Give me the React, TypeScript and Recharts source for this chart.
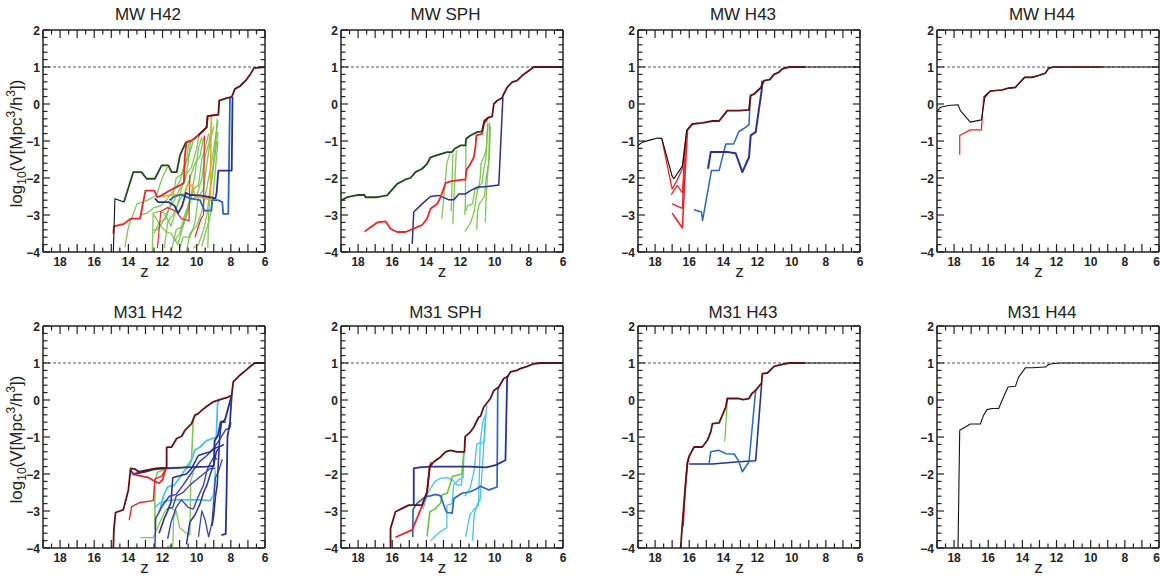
import { LineChart, Line, XAxis, YAxis, ReferenceLine } from 'recharts'

type Pt = [number, number] // [z, log10 V]

// ---------- axes ----------
const X_LABELS = [18, 16, 14, 12, 10, 8, 6]
const Y_LABELS = [2, 1, 0, -1, -2, -3, -4]
const X_TICKS = Array.from({ length: 27 }, (_, i) => 6 + i * 0.5)
const Y_TICKS = Array.from({ length: 31 }, (_, i) => Math.round((-4 + i * 0.2) * 10) / 10)
const TITLES = ['MW H42', 'MW SPH', 'MW H43', 'MW H44', 'M31 H42', 'M31 SPH', 'M31 H43', 'M31 H44']

// ---------- MW H42 ----------
const mwH42_black: Pt[] = [[14.88, -4.0], [14.79, -2.56], [14.26, -2.65]]
const mwH42_dkgreen: Pt[] = [[14.26, -2.65], [13.71, -1.84], [13.23, -1.84], [12.93, -2.02], [12.45, -2.02], [12.05, -1.66], [11.66, -1.66], [11.47, -1.84], [11.17, -1.84], [10.98, -1.39], [10.63, -1.03], [10.3, -0.99], [9.91, -0.85]]
const mwH42_main: Pt[] = [[9.91, -0.85], [9.42, -0.63], [9.36, -0.33], [8.73, -0.29], [8.68, 0.09], [8.25, 0.16], [7.95, 0.19], [7.76, 0.41], [7.47, 0.48], [7.08, 0.66], [6.84, 0.82], [6.65, 0.97], [6.0, 1.0]]
const mwH42_red: Pt[] = [[14.88, -3.5], [14.85, -3.31], [14.26, -3.24], [13.87, -3.1], [13.32, -3.1], [13.0, -2.34], [12.48, -2.34], [12.31, -2.52], [12.05, -2.47], [11.66, -2.36], [10.98, -2.2], [10.75, -2.12], [10.7, -1.44], [10.6, -1.03], [10.3, -0.99], [9.91, -0.85], [9.42, -0.63], [9.36, -0.33], [8.73, -0.29]]
const mwH42_red2: Pt[] = [[12.3, -3.9], [12.1, -2.9], [11.7, -2.8], [11.2, -2.9], [10.9, -3.1], [10.45, -3.15], [10.4, -1.9]]
const mwH42_red3: Pt[] = [[10.1, -3.6], [9.75, -3.1], [9.6, -3.0], [9.55, -0.85]]
const mwH42_navy: Pt[] = [[12.45, -2.55], [12.25, -2.65], [11.66, -2.65], [11.3, -2.75], [11.08, -2.95], [10.85, -2.75], [10.63, -2.4], [10.4, -2.46], [9.81, -2.47], [9.22, -2.52], [8.9, -2.55], [8.83, -2.38], [8.73, -1.8], [7.95, -1.8], [7.9, 0.19]]
const mwH42_blue: Pt[] = [[11.6, -2.6], [11.3, -2.5], [10.9, -2.45], [10.4, -2.55], [9.8, -2.6], [9.55, -2.88], [9.15, -2.88], [9.1, -2.6], [8.75, -2.6], [8.5, -2.65], [8.45, -2.97], [8.15, -2.97], [8.05, 0.18]]
const mwH42_orange: Pt[] = [[12.0, -2.5], [11.3, -2.45], [10.7, -2.45], [10.55, -2.2], [10.25, -2.2], [10.1, -2.5], [9.5, -2.55], [9.2, -2.6], [9.15, -0.35]]
const mwH42_g1: Pt[] = [[14.2, -3.87], [14.0, -3.33], [13.5, -2.7], [12.93, -2.61], [12.35, -2.47], [12.1, -2.1], [11.92, -1.89], [11.7, -1.7]]
const mwH42_g2: Pt[] = [[12.6, -4.0], [12.55, -2.95], [12.2, -2.9], [11.9, -2.95], [11.5, -3.3], [11.1, -2.7], [10.9, -2.3], [10.6, -1.9], [10.3, -1.7], [10.0, -1.2], [9.85, -0.85]]
const mwH42_g3: Pt[] = [[12.5, -3.5], [12.2, -3.2], [11.8, -3.1], [11.4, -2.5], [11.2, -2.0], [10.9, -1.9], [10.6, -1.5], [10.45, -1.02]]
const mwH42_g4: Pt[] = [[11.9, -3.9], [11.7, -3.2], [11.4, -3.0], [11.0, -2.6], [10.7, -2.4], [10.4, -2.0], [10.1, -1.6], [9.8, -1.4], [9.6, -0.9]]
const mwH42_g5: Pt[] = [[11.5, -4.0], [11.2, -3.4], [10.8, -3.3], [10.5, -2.9], [10.2, -2.3], [9.9, -2.2], [9.7, -1.5], [9.5, -1.2], [9.3, -0.8]]
const mwH42_g6: Pt[] = [[11.0, -3.9], [10.8, -3.6], [10.4, -3.6], [10.1, -3.2], [9.9, -2.5], [9.6, -2.3], [9.4, -1.6], [9.2, -1.0], [9.0, -0.6]]
const mwH42_g7: Pt[] = [[10.6, -4.0], [10.4, -3.5], [10.0, -3.3], [9.7, -2.9], [9.5, -2.5], [9.3, -2.0], [9.1, -1.5], [8.9, -0.9], [8.75, -0.45]]
const mwH42_g8: Pt[] = [[10.2, -3.9], [9.9, -3.8], [9.6, -3.4], [9.4, -3.0], [9.25, -2.4], [9.1, -2.0], [8.9, -1.3], [8.75, -0.75]]
const mwH42_g9: Pt[] = [[9.7, -3.85], [9.5, -3.5], [9.3, -3.2], [9.1, -2.8], [8.95, -2.0], [8.85, -1.5], [8.75, -1.0]]
const mwH42_g10: Pt[] = [[13.3, -3.0], [12.9, -2.95], [12.5, -2.8], [12.1, -2.75], [11.7, -2.55], [11.3, -2.3], [11.0, -2.1], [10.7, -1.7], [10.4, -1.3], [10.2, -1.0]]
const mwH42_g11: Pt[] = [[12.5, -3.0], [12.1, -3.3], [11.8, -3.45], [11.5, -3.5], [11.1, -3.8], [10.8, -3.3], [10.5, -2.8], [10.3, -2.4], [10.1, -1.9], [9.9, -1.2], [9.7, -0.9]]
const mwH42_g12: Pt[] = [[11.3, -3.7], [11.0, -3.5], [10.7, -3.0], [10.4, -2.6], [10.0, -2.5], [9.7, -2.0], [9.5, -1.4], [9.3, -1.1], [9.1, -0.5]]
const mwH42_g13: Pt[] = [[12.55, -3.4], [12.3, -3.4], [12.0, -3.2], [11.6, -2.8], [11.3, -2.6], [11.0, -2.3], [10.7, -2.1], [10.5, -1.6], [10.35, -1.0]]
const mwH42_g14: Pt[] = [[9.35, -3.9], [9.3, -3.0], [9.2, -2.3], [9.05, -1.7], [8.9, -1.1], [8.8, -0.4]]

// ---------- MW SPH ----------
const mwSph_dkgreen: Pt[] = [[19.0, -2.61], [18.64, -2.52], [18.05, -2.46], [17.62, -2.46], [17.57, -2.52], [16.88, -2.52], [16.3, -2.47], [15.71, -2.16], [15.22, -2.04], [14.93, -2.0], [14.64, -1.84], [14.25, -1.75], [13.96, -1.62], [13.76, -1.44], [13.27, -1.37], [12.78, -1.3], [12.49, -1.3], [12.35, -1.21], [12.0, -1.12], [11.71, -1.12], [11.67, -0.94], [11.42, -0.85], [11.03, -0.76], [10.74, -0.74]]
const mwSph_main: Pt[] = [[10.74, -0.74], [10.6, -0.45], [10.35, -0.36], [10.15, -0.34], [10.05, 0.0], [9.86, 0.09], [9.56, 0.17], [9.47, 0.27], [9.27, 0.45], [8.98, 0.59], [8.69, 0.63], [8.39, 0.77], [8.0, 0.9], [7.71, 1.0], [6.0, 1.0]]
const mwSph_red: Pt[] = [[17.62, -3.45], [17.27, -3.33], [16.88, -3.2], [16.39, -3.17], [16.1, -3.37], [15.71, -3.46], [15.22, -3.46], [14.74, -3.37], [14.25, -3.27], [13.96, -3.1], [13.76, -2.83], [13.37, -2.7], [13.17, -2.52], [12.88, -2.14], [12.59, -2.09], [12.0, -2.05], [11.71, -2.04], [11.65, -1.78], [11.42, -1.62], [11.22, -1.44], [11.13, -1.17], [11.07, -0.85], [10.74, -0.81], [10.64, -0.54], [10.35, -0.36]]
const mwSph_navy: Pt[] = [[14.83, -3.78], [14.74, -2.92], [14.25, -2.7], [13.76, -2.5], [13.27, -2.47], [12.68, -2.59], [12.39, -2.59], [12.1, -2.43], [11.71, -2.43], [11.42, -2.34], [11.03, -2.25], [10.44, -2.23], [9.76, -2.19], [9.52, 0.18]]
const mwSph_g1: Pt[] = [[13.1, -3.1], [12.95, -2.4], [12.8, -1.6], [12.6, -1.3]]
const mwSph_g2: Pt[] = [[12.45, -3.25], [12.4, -2.6], [12.3, -1.8], [12.25, -1.25]]
const mwSph_g3: Pt[] = [[11.75, -3.45], [11.4, -3.2], [11.2, -2.9], [11.1, -2.6], [11.0, -2.3], [10.9, -2.2], [10.75, -2.15], [10.65, -1.8], [10.5, -1.4], [10.4, -0.5]]
const mwSph_g4: Pt[] = [[11.7, -2.9], [11.6, -2.75], [11.3, -2.7], [11.15, -2.3], [10.95, -2.3], [10.85, -2.0], [10.8, -1.6], [10.6, -1.4], [10.5, -1.25], [10.4, -0.55]]
const mwSph_g5: Pt[] = [[11.05, -3.4], [11.0, -2.9], [10.9, -2.7], [10.6, -2.5], [10.5, -2.0], [10.35, -1.6], [10.3, -0.5]]
const mwSph_g6: Pt[] = [[10.55, -3.2], [10.5, -2.5], [10.4, -1.8], [10.3, -1.3], [10.25, -0.6]]
const mwSph_g7: Pt[] = [[11.75, -3.0], [11.72, -2.7], [11.68, -1.1]]
const mwSph_g8: Pt[] = [[12.55, -2.9], [12.5, -2.2], [12.45, -1.35]]

// ---------- MW H43 ----------
const mwH43_black: Pt[] = [[19.0, -1.12], [18.74, -1.03], [18.25, -0.97], [17.86, -0.92], [17.61, -0.93], [17.0, -1.95], [16.9, -2.02], [16.4, -1.68], [16.15, -0.72], [15.81, -0.54]]
const mwH43_main: Pt[] = [[16.15, -0.72], [15.81, -0.54], [15.23, -0.51], [14.64, -0.46], [14.25, -0.46], [13.77, -0.18], [13.08, -0.18], [12.5, -0.16], [12.4, 0.23], [12.2, 0.27], [11.81, 0.44], [11.62, 0.63], [11.29, 0.66], [11.03, 0.8], [10.74, 0.86], [10.55, 0.95], [10.15, 1.0], [9.18, 1.0]]
const mwH43_tail: Pt[] = [[9.18, 1.0], [6.0, 1.0]]
const mwH43_r1: Pt[] = [[17.6, -0.95], [17.0, -2.3], [16.7, -2.05], [16.4, -1.75], [16.15, -0.75]]
const mwH43_r2: Pt[] = [[17.05, -2.45], [16.7, -2.2], [16.4, -2.4], [16.2, -1.0]]
const mwH43_r3: Pt[] = [[17.0, -2.7], [16.4, -2.82], [16.25, -1.2]]
const mwH43_r4: Pt[] = [[17.0, -2.95], [16.7, -3.15], [16.4, -3.35], [16.2, -1.5], [16.1, -0.72]]
const mwH43_navy: Pt[] = [[14.9, -1.75], [14.74, -1.3], [13.77, -1.3], [13.28, -1.33], [12.89, -1.84], [12.5, -1.44], [12.4, -0.85], [12.11, -0.76], [11.76, 0.36], [11.72, 0.63]]
const mwH43_blue: Pt[] = [[15.72, -2.86], [15.28, -2.92], [15.22, -3.15], [14.7, -1.8], [14.25, -1.8], [13.86, -1.08], [13.4, -1.08], [13.1, -0.75], [12.7, -0.63], [12.5, -0.55], [12.42, 0.23]]

// ---------- MW H44 ----------
const mwH44_black: Pt[] = [[19.0, -0.2], [18.8, -0.09], [18.32, -0.04], [17.77, -0.02], [17.63, -0.18], [17.05, -0.49], [16.4, -0.43], [16.2, 0.18], [15.88, 0.35], [15.2, 0.38], [14.8, 0.43], [14.41, 0.45], [13.87, 0.72], [13.44, 0.72], [13.05, 0.77], [12.66, 0.83], [12.46, 0.97], [12.17, 1.0], [6.0, 1.0]]
const mwH44_red: Pt[] = [[17.67, -1.37], [17.67, -0.85], [17.05, -0.7], [16.4, -0.7], [16.27, 0.18]]
const mwH44_main: Pt[] = [[16.27, 0.18], [15.88, 0.35], [15.2, 0.38], [14.8, 0.43], [14.41, 0.45], [13.87, 0.72], [13.44, 0.72], [13.05, 0.77], [12.66, 0.83], [12.46, 0.97], [12.17, 1.0], [9.3, 1.0]]

// ---------- M31 H42 ----------
const m31H42_main: Pt[] = [[14.88, -4.0], [14.85, -3.51], [14.75, -3.04], [14.3, -2.97], [14.0, -2.43], [13.87, -1.85], [13.6, -1.87], [13.4, -1.94], [13.0, -1.9], [12.4, -1.85], [11.76, -1.83], [11.76, -1.28], [11.47, -1.27], [11.17, -1.04], [10.88, -0.98], [10.69, -0.82], [10.3, -0.64], [10.1, -0.41], [9.91, -0.37], [9.71, -0.28], [9.46, -0.19], [9.03, -0.05], [8.64, 0.01], [8.15, 0.08], [7.95, 0.13], [7.86, 0.49], [7.47, 0.67], [7.08, 0.82], [6.78, 0.94], [6.59, 1.0], [6.0, 1.0]]
const m31H42_navyH: Pt[] = [[13.87, -1.9], [13.71, -2.0], [13.03, -1.94], [12.44, -1.87], [11.76, -1.84], [10.6, -1.82], [9.42, -1.8], [9.0, -1.78], [8.95, -1.1], [8.75, -0.95], [8.6, -0.6], [8.35, -0.55], [7.95, 0.13]]
const m31H42_red: Pt[] = [[13.95, -3.25], [13.81, -2.88], [13.32, -2.77], [12.54, -2.72], [12.45, -2.15], [12.35, -2.12], [12.05, -2.06], [11.8, -1.85]]
const m31H42_red2: Pt[] = [[13.8, -2.0], [13.3, -2.05], [12.8, -2.1], [12.45, -2.2], [12.2, -2.25], [12.0, -2.15], [11.8, -1.85]]
const m31H42_g1: Pt[] = [[13.3, -3.72], [12.55, -3.72], [12.15, -3.3], [11.85, -3.0], [11.6, -2.9], [11.2, -3.0]]
const m31H42_g2: Pt[] = [[12.45, -3.5], [12.45, -2.2], [12.3, -1.95], [11.9, -1.88], [11.5, -1.85], [11.0, -1.85], [10.6, -1.8], [10.3, -1.6], [10.2, -0.5], [10.1, -0.41]]
const m31H42_g3: Pt[] = [[11.75, -3.95], [11.4, -3.95], [11.35, -3.2], [11.2, -3.0], [11.0, -3.45], [10.6, -3.6], [10.4, -3.65], [10.35, -2.2], [10.2, -1.95]]
const m31H42_c1: Pt[] = [[12.45, -2.9], [12.15, -2.78], [11.7, -2.72], [11.2, -2.7], [10.6, -2.7], [9.8, -2.7], [9.2, -2.72], [9.0, -2.55], [8.9, -1.9]]
const m31H42_c2: Pt[] = [[12.2, -3.05], [11.95, -2.6], [11.7, -2.35], [11.3, -2.3], [11.0, -2.1], [10.7, -1.9], [10.4, -1.75], [10.1, -1.35], [9.8, -1.27], [9.42, -1.1], [8.85, -1.0], [8.78, -0.1], [8.68, 0.0]]
const m31H42_n1: Pt[] = [[12.45, -4.0], [12.4, -3.2], [12.0, -2.85], [11.6, -2.6], [11.2, -2.55], [10.8, -2.3], [10.5, -2.1], [10.2, -1.9], [9.8, -1.65], [9.4, -1.5], [9.0, -1.3], [8.7, -1.1], [8.3, -0.8], [8.05, -0.75], [8.0, -0.6]]
const m31H42_n2: Pt[] = [[12.2, -3.6], [11.9, -3.2], [11.7, -3.0], [11.5, -2.75], [11.4, -2.1], [11.0, -2.05], [10.6, -2.0], [10.3, -1.85], [9.9, -1.5], [9.6, -1.45], [9.2, -1.4], [8.9, -1.3], [8.6, -1.25], [8.4, -1.2]]
const m31H42_n3: Pt[] = [[11.7, -3.75], [11.5, -3.3], [11.2, -2.9], [10.9, -2.7], [10.5, -2.9], [10.2, -2.95], [9.9, -2.6], [9.6, -2.3], [9.4, -1.9], [9.2, -1.7], [9.0, -1.55], [8.8, -1.6]]
const m31H42_n4: Pt[] = [[10.6, -3.9], [10.4, -3.3], [10.1, -3.1], [9.8, -2.8], [9.6, -2.5], [9.4, -2.3], [9.2, -2.0], [9.0, -1.75], [8.85, -1.4], [8.7, -1.3]]
const m31H42_n5: Pt[] = [[9.9, -3.7], [9.7, -3.0], [9.5, -3.25], [9.3, -3.7], [9.1, -3.3], [8.9, -2.1], [8.7, -1.9], [8.5, -1.6]]
const m31H42_n6: Pt[] = [[8.55, -3.65], [8.3, -3.62], [8.25, -2.5], [8.2, -1.0], [8.05, -0.6], [7.95, 0.13]]
const m31H42_n7: Pt[] = [[9.1, -3.4], [9.0, -3.1], [8.9, -2.6], [8.8, -2.3], [8.65, -1.0], [8.55, -0.6], [8.3, -0.6]]
const m31H42_n8: Pt[] = [[11.75, -2.95], [11.4, -2.9], [11.2, -2.6], [10.8, -2.5], [10.4, -2.3], [10.0, -2.15], [9.6, -2.0], [9.2, -1.85], [8.9, -1.85]]

// ---------- M31 SPH ----------
const m31Sph_main: Pt[] = [[16.1, -4.0], [16.1, -3.47], [15.81, -3.02], [15.42, -2.93], [15.03, -2.84], [14.74, -2.84], [14.25, -2.84], [13.96, -2.48], [13.8, -1.8], [13.56, -1.67], [13.17, -1.54], [12.88, -1.4], [12.59, -1.36], [12.2, -1.4], [11.77, -1.4], [11.73, -0.99], [11.42, -0.86], [11.22, -0.73], [10.93, -0.46], [10.83, -0.44], [10.64, -0.19], [10.25, 0.04], [10.05, 0.26], [9.76, 0.35], [9.47, 0.58], [9.23, 0.64], [9.08, 0.76], [8.69, 0.8], [8.5, 0.85], [8.1, 0.91], [7.71, 0.98], [7.32, 1.0], [6.0, 1.0]]
const m31Sph_navy: Pt[] = [[14.74, -2.84], [14.74, -1.85], [14.4, -1.82], [13.76, -1.8], [12.5, -1.8], [11.5, -1.8], [10.5, -1.82], [9.95, -1.76], [9.37, -1.63], [9.27, 0.6], [9.2, 0.66]]
const m31Sph_red: Pt[] = [[15.81, -3.71], [14.83, -3.51], [14.25, -2.86], [13.96, -2.48], [13.8, -1.76], [13.7, -1.68]]
const m31Sph_blue: Pt[] = [[14.8, -3.7], [14.78, -2.95], [14.54, -2.79], [14.05, -2.61], [13.76, -2.59], [13.47, -2.55], [13.17, -2.59], [12.88, -2.97], [12.78, -3.04], [12.49, -3.06], [12.39, -2.66], [11.91, -2.52], [11.42, -2.48], [11.03, -2.39], [10.83, -2.33], [10.34, -2.43], [9.86, -2.35], [9.82, 0.26], [9.76, 0.35]]
const m31Sph_green: Pt[] = [[13.96, -3.69], [13.8, -3.02], [13.5, -2.95], [13.17, -2.79], [13.08, -2.57], [12.78, -2.52], [12.59, -2.25], [12.49, -2.07], [11.91, -2.0], [11.81, -1.4]]
const m31Sph_c1: Pt[] = [[14.2, -2.95], [13.9, -2.5], [13.5, -2.2], [13.2, -2.12], [12.8, -2.1], [12.5, -2.15], [12.2, -2.3], [11.95, -2.3], [11.85, -1.6], [11.8, -1.45]]
const m31Sph_c2: Pt[] = [[13.75, -3.8], [13.3, -3.6], [13.0, -3.5], [12.8, -3.45], [12.8, -2.85], [12.5, -2.8], [12.4, -2.3], [12.1, -2.15], [11.85, -2.1], [11.8, -1.4]]
const m31Sph_c3: Pt[] = [[11.7, -3.7], [11.45, -3.1], [11.2, -2.95], [10.95, -2.85], [10.85, -1.2], [10.6, -1.1], [10.5, -0.3], [10.45, -0.14]]
const m31Sph_c4: Pt[] = [[11.3, -3.8], [11.2, -3.1], [11.0, -2.8], [10.85, -2.7], [10.75, -2.0], [10.65, -1.3], [10.55, -0.5]]
const m31Sph_c5: Pt[] = [[11.75, -2.6], [11.45, -2.4], [11.2, -1.9], [11.05, -1.2], [10.85, -1.15], [10.7, -0.6], [10.55, -0.4]]

// ---------- M31 H43 ----------
const m31H43_main: Pt[] = [[16.5, -4.0], [16.4, -3.33], [16.24, -2.43], [16.11, -1.71], [16.01, -1.53], [15.72, -1.27], [15.23, -1.27], [14.94, -1.09], [14.74, -0.86], [14.64, -0.64], [14.25, -0.62], [13.86, -0.19], [13.77, 0.04], [13.08, 0.04], [12.85, 0.01], [12.5, 0.04], [12.34, 0.17], [12.11, 0.26], [11.76, 0.46], [11.72, 0.71], [11.42, 0.73], [11.03, 0.91], [10.55, 0.96], [10.15, 1.0], [9.2, 1.0]]
const m31H43_tail: Pt[] = [[9.2, 1.0], [6.0, 1.0]]
const m31H43_red: Pt[] = [[16.36, -3.42], [16.24, -2.4], [16.11, -1.71], [16.0, -1.5]]
const m31H43_navy: Pt[] = [[16.01, -1.73], [14.64, -1.73], [13.08, -1.67], [12.11, -1.64], [11.76, 0.44]]
const m31H43_blue: Pt[] = [[14.84, -1.72], [14.74, -1.4], [14.25, -1.36], [13.86, -1.45], [13.37, -1.46], [13.12, -1.63], [12.89, -1.94], [12.5, -1.67], [12.11, 0.26]]
const m31H43_green: Pt[] = [[13.92, -1.13], [13.77, 0.01]]

// ---------- M31 H44 ----------
const m31H44_black: Pt[] = [[17.77, -4.0], [17.67, -0.82], [17.34, -0.73], [17.05, -0.65], [16.46, -0.65], [16.27, -0.41], [16.07, -0.26], [15.78, -0.23], [15.39, -0.23], [15.1, 0.08], [14.84, 0.35], [14.41, 0.37], [14.22, 0.62], [13.83, 0.87], [13.44, 0.87], [12.66, 0.89], [12.46, 0.96], [12.27, 0.98], [11.78, 1.0], [6.0, 1.0]]

// ---------- styling ----------
const MAIN = '#5e1416'
const BLACK = '#141414'
const DKGREEN = '#1f4a1c'
const RED = '#e8262b'
const NAVY = '#2a338a'
const NAVY2 = '#3a47a6'
const BLUE = '#2e67b8'
const GREEN = '#74bf48'
const ORANGE = '#f2a51f'
const CYAN = '#4cc2e6'
const AXIS = '#222'
const FONT = '"Liberation Sans", Arial, Helvetica, sans-serif'

type Series = { pts: Pt[]; color: string; w?: number; op?: number }

const g = (pts: Pt[], color = GREEN, w = 1.3): Series => ({ pts, color, w, op: 0.9 })

const PANEL_SERIES: Series[][] = [
  [
    ...[mwH42_g1, mwH42_g2, mwH42_g3, mwH42_g4, mwH42_g5, mwH42_g6, mwH42_g7, mwH42_g8, mwH42_g9, mwH42_g10, mwH42_g11, mwH42_g12, mwH42_g13, mwH42_g14].map((p) => g(p)),
    { pts: mwH42_red2, color: RED, w: 1.2 },
    { pts: mwH42_red3, color: RED, w: 1.2 },
    { pts: mwH42_orange, color: ORANGE, w: 1.6 },
    { pts: mwH42_blue, color: BLUE, w: 1.8 },
    { pts: mwH42_navy, color: NAVY, w: 1.8 },
    { pts: mwH42_dkgreen, color: DKGREEN, w: 1.8 },
    { pts: mwH42_red, color: RED, w: 1.8 },
    { pts: mwH42_black, color: BLACK, w: 1.1 },
    { pts: mwH42_main, color: MAIN, w: 1.8 },
  ],
  [
    ...[mwSph_g1, mwSph_g2, mwSph_g3, mwSph_g4, mwSph_g5, mwSph_g6, mwSph_g7, mwSph_g8].map((p) => g(p)),
    { pts: mwSph_navy, color: NAVY, w: 1.5 },
    { pts: mwSph_red, color: RED, w: 1.8 },
    { pts: mwSph_dkgreen, color: DKGREEN, w: 1.8 },
    { pts: mwSph_main, color: MAIN, w: 1.8 },
  ],
  [
    { pts: mwH43_r1, color: RED, w: 1.3 },
    { pts: mwH43_r2, color: RED, w: 1.3 },
    { pts: mwH43_r3, color: RED, w: 1.3 },
    { pts: mwH43_r4, color: RED, w: 1.6 },
    { pts: mwH43_blue, color: BLUE, w: 1.5 },
    { pts: mwH43_navy, color: NAVY, w: 2 },
    { pts: mwH43_black, color: BLACK, w: 1.2 },
    { pts: mwH43_main, color: MAIN, w: 1.9 },
    { pts: mwH43_tail, color: BLACK, w: 1.2 },
  ],
  [
    { pts: mwH44_red, color: RED, w: 1.2 },
    { pts: mwH44_black, color: BLACK, w: 1.1 },
    { pts: mwH44_main, color: MAIN, w: 1.6 },
  ],
  [
    g(m31H42_g1),
    g(m31H42_g2, GREEN, 1.6),
    g(m31H42_g3),
    { pts: m31H42_c1, color: CYAN, w: 1.6 },
    { pts: m31H42_c2, color: CYAN, w: 1.8 },
    { pts: m31H42_n1, color: NAVY2, w: 1.5 },
    { pts: m31H42_n2, color: NAVY, w: 1.6 },
    { pts: m31H42_n3, color: NAVY2, w: 1.4 },
    { pts: m31H42_n4, color: NAVY, w: 1.5 },
    { pts: m31H42_n5, color: NAVY2, w: 1.3 },
    { pts: m31H42_n6, color: NAVY, w: 1.8 },
    { pts: m31H42_n7, color: NAVY, w: 1.6 },
    { pts: m31H42_n8, color: NAVY2, w: 1.4 },
    { pts: m31H42_navyH, color: NAVY, w: 1.9 },
    { pts: m31H42_red, color: RED, w: 1.4 },
    { pts: m31H42_red2, color: RED, w: 1.8 },
    { pts: m31H42_main, color: MAIN, w: 1.8 },
  ],
  [
    { pts: m31Sph_c1, color: CYAN, w: 1.3 },
    { pts: m31Sph_c2, color: CYAN, w: 1.3 },
    { pts: m31Sph_c3, color: CYAN, w: 1.3 },
    { pts: m31Sph_c4, color: CYAN, w: 1.3 },
    { pts: m31Sph_c5, color: CYAN, w: 1.3 },
    { pts: m31Sph_green, color: GREEN, w: 1.6 },
    { pts: m31Sph_blue, color: BLUE, w: 1.7 },
    { pts: m31Sph_navy, color: NAVY, w: 1.8 },
    { pts: m31Sph_red, color: RED, w: 1.8 },
    { pts: m31Sph_main, color: MAIN, w: 1.8 },
  ],
  [
    { pts: m31H43_green, color: GREEN, w: 1.2 },
    { pts: m31H43_navy, color: NAVY, w: 1.6 },
    { pts: m31H43_blue, color: BLUE, w: 1.5 },
    { pts: m31H43_red, color: RED, w: 1.6 },
    { pts: m31H43_main, color: MAIN, w: 1.8 },
    { pts: m31H43_tail, color: BLACK, w: 1.2 },
  ],
  [{ pts: m31H44_black, color: BLACK, w: 1.1 }],
]

// ---------- layout ----------
const COL_X = [43, 340.5, 638, 937]
const ROW_Y = [29.5, 325.5]
const PW = 222
const PH = 222
const ML = 45
const MT = 28
const MR = 12
const MB = 24
const PT = MT
const PB = MT + PH
const PL = ML
const PR = ML + PW

const isInt = (v: number) => Math.abs(v - Math.round(v)) < 1e-6
const fmt = (v: number) => (v < 0 ? `\u2212${Math.abs(v)}` : `${v}`)

function XTick(props: any) {
  const { x, payload, lastCol } = props
  const val = payload.value as number
  const len = isInt(val) ? 8 : 4.5
  // the rightmost panel touches the page edge: keep its "6" inside
  const edge = lastCol && val === 6
  return (
    <g>
      <line x1={x} x2={x} y1={PB} y2={PB - len} stroke={AXIS} strokeWidth={1.2} />
      <line x1={x} x2={x} y1={PT} y2={PT + len} stroke={AXIS} strokeWidth={1.2} />
      {X_LABELS.includes(val) && (
        <text
          x={edge ? x + 1 : x}
          y={PB + 14}
          textAnchor={edge ? 'end' : 'middle'}
          fontSize={12}
          fontWeight="bold"
          fontFamily={FONT}
          fill={AXIS}
        >
          {val}
        </text>
      )}
    </g>
  )
}

function YTick(props: any) {
  const { y, payload } = props
  const val = payload.value as number
  const len = isInt(val) ? 7 : 4.5
  return (
    <g>
      <line x1={PL} x2={PL + len} y1={y} y2={y} stroke={AXIS} strokeWidth={1.2} />
      <line x1={PR} x2={PR - len} y1={y} y2={y} stroke={AXIS} strokeWidth={1.2} />
      {Y_LABELS.includes(val) && (
        <text x={PL - 3} y={y + 4.5} textAnchor="end" fontSize={12} fontWeight="bold" fontFamily={FONT} fill={AXIS}>
          {fmt(val)}
        </text>
      )}
    </g>
  )
}

const toData = (pts: Pt[]) => pts.map(([z, v]) => ({ z, v }))

function Panel({ idx }: { idx: number }) {
  const col = idx % 4
  const row = Math.floor(idx / 4)
  const series = PANEL_SERIES[idx]
  return (
    <div style={{ position: 'absolute', left: COL_X[col] - ML, top: ROW_Y[row] - MT }}>
      <LineChart width={ML + PW + MR} height={MT + PH + MB} margin={{ top: MT, right: MR, left: 0, bottom: 0 }}>
        <XAxis
          type="number"
          dataKey="z"
          domain={[6, 19]}
          reversed
          allowDataOverflow
          ticks={X_TICKS}
          interval={0}
          tick={<XTick lastCol={col === 3} />}
          tickLine={false}
          tickSize={0}
          tickMargin={0}
          height={MB}
          axisLine={{ stroke: AXIS, strokeWidth: 1.5 }}
        />
        <YAxis
          type="number"
          domain={[-4, 2]}
          allowDataOverflow
          ticks={Y_TICKS}
          interval={0}
          tick={<YTick />}
          tickLine={false}
          tickSize={0}
          tickMargin={0}
          width={ML}
          axisLine={{ stroke: AXIS, strokeWidth: 1.5 }}
        />
        <ReferenceLine y={2} stroke={AXIS} strokeWidth={1.5} />
        <ReferenceLine x={6} stroke={AXIS} strokeWidth={1.5} />
        <ReferenceLine y={1} stroke="#555" strokeWidth={1} strokeDasharray="3 2" />
        {series.map((s, i) => (
          <Line
            key={i}
            data={toData(s.pts)}
            dataKey="v"
            type="linear"
            stroke={s.color}
            strokeWidth={s.w ?? 1.5}
            strokeOpacity={s.op ?? 1}
            strokeLinejoin="round"
            dot={false}
            activeDot={false}
            isAnimationActive={false}
          />
        ))}
      </LineChart>
    </div>
  )
}

export default function App() {
  return (
    <div style={{ position: 'absolute', left: 0, top: 0, width: 1160, height: 577, overflow: 'hidden', background: '#fff', fontFamily: FONT }}>
      {TITLES.map((_, i) => (
        <Panel key={i} idx={i} />
      ))}
      <svg width={1160} height={577} style={{ position: 'absolute', left: 0, top: 0, pointerEvents: 'none' }}>
        {TITLES.map((t, i) => {
          const col = i % 4
          const row = Math.floor(i / 4)
          const cx = COL_X[col] + PW / 2
          return (
            <g key={t}>
              <text x={cx - 6} y={row === 0 ? 19.5 : 317.5} textAnchor="middle" fontSize={17} fontFamily={FONT} fill="#222">
                {t}
              </text>
              <text x={cx - 9.5} y={ROW_Y[row] + PH + 25.5} textAnchor="middle" fontSize={17} fontFamily={FONT} fill="#222">
                z
              </text>
            </g>
          )
        })}
        {ROW_Y.map((ry) => (
          <text
            key={ry}
            transform={`translate(22, ${ry + PH / 2 + 3}) rotate(-90)`}
            textAnchor="middle"
            fontSize={17}
            fontFamily={FONT}
            fill="#222"
          >
            log
            <tspan fontSize={12} dy={4}>10</tspan>
            <tspan dy={-4}>(V[Mpc</tspan>
            <tspan fontSize={12} dy={-7}>3</tspan>
            <tspan dy={7}>/h</tspan>
            <tspan fontSize={12} dy={-7}>3</tspan>
            <tspan dy={7}>])</tspan>
          </text>
        ))}
      </svg>
    </div>
  )
}
